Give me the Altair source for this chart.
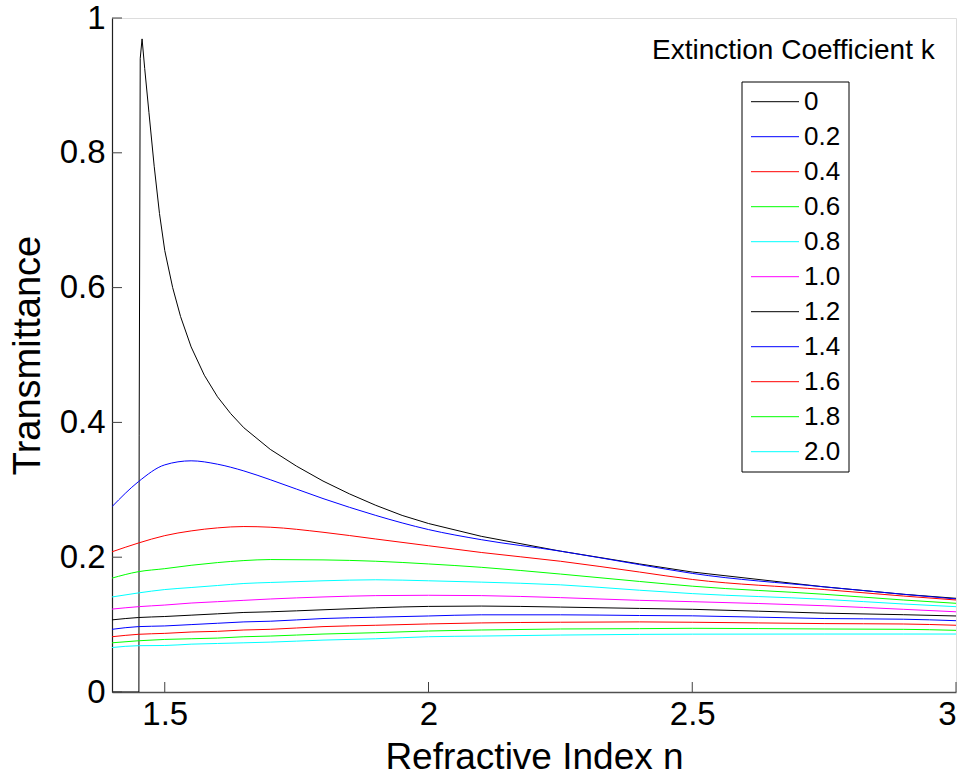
import altair as alt
import pandas as pd

# ---- data ----
k_labels = ["0", "0.2", "0.4", "0.6", "0.8", "1.0", "1.2", "1.4", "1.6", "1.8", "2.0"]
k_colors = ["#000000", "#0000ff", "#ff0000", "#00ff00", "#00ffff", "#ff00ff",
            "#000000", "#0000ff", "#ff0000", "#00ff00", "#00ffff"]

# k = 0 curve (has a cut-off near n = 1.45)
n_k0 = [1.4, 1.451, 1.4515, 1.4535, 1.457, 1.462, 1.47, 1.48, 1.49, 1.5, 1.515,
        1.53, 1.55, 1.575, 1.6, 1.625, 1.65, 1.7, 1.75, 1.8, 1.85, 1.9, 1.95, 2.0,
        2.1, 2.25, 2.4, 2.5, 2.75, 2.9, 3.0]
t_k0 = [0.0, 0.0, 0.38, 0.94, 0.969, 0.925, 0.86, 0.78, 0.71, 0.655, 0.600,
        0.557, 0.512, 0.470, 0.438, 0.413, 0.392, 0.360, 0.335, 0.313, 0.294,
        0.277, 0.262, 0.250, 0.231, 0.209, 0.190, 0.178, 0.156, 0.145, 0.139]

# common n grid for k >= 0.2
n_grid = [1.4, 1.45, 1.5, 1.55, 1.6, 1.65, 1.7, 1.8, 1.9, 2.0, 2.1, 2.25, 2.4, 2.5,
          2.75, 2.9, 3.0]
t_k02 = [0.275, 0.312, 0.337, 0.343, 0.338, 0.328, 0.315, 0.287, 0.262, 0.241, 0.226,
         0.209, 0.189, 0.176, 0.156, 0.145, 0.138]
t_k04 = [0.208, 0.221, 0.232, 0.239, 0.2435, 0.2455, 0.2445, 0.237, 0.227, 0.217, 0.207,
         0.194, 0.178, 0.167, 0.152, 0.1424, 0.1365]
t_k06 = [0.169, 0.1785, 0.183, 0.188, 0.192, 0.195, 0.1965, 0.196, 0.194, 0.190, 0.185,
         0.175, 0.164, 0.157, 0.145, 0.1365, 0.1316]
t_k08 = [0.141, 0.147, 0.152, 0.155, 0.158, 0.161, 0.1625, 0.165, 0.1665, 0.165, 0.163,
         0.159, 0.151, 0.146, 0.1375, 0.1306, 0.1266]
t_k10 = [0.123, 0.1266, 0.129, 0.132, 0.134, 0.136, 0.138, 0.141, 0.143, 0.1435, 0.143,
         0.140, 0.136, 0.134, 0.128, 0.1227, 0.119]
t_k12 = [0.107, 0.1105, 0.112, 0.114, 0.116, 0.118, 0.119, 0.122, 0.125, 0.127, 0.1275,
         0.126, 0.124, 0.1227, 0.117, 0.1147, 0.1128]
t_k14 = [0.093, 0.097, 0.098, 0.100, 0.102, 0.104, 0.105, 0.109, 0.111, 0.1128, 0.1145,
         0.1145, 0.1135, 0.113, 0.109, 0.108, 0.1058]
t_k16 = [0.082, 0.0856, 0.087, 0.089, 0.090, 0.092, 0.093, 0.097, 0.099, 0.101, 0.1025,
         0.1035, 0.104, 0.1035, 0.1015, 0.1009, 0.099]
t_k18 = [0.073, 0.076, 0.078, 0.079, 0.080, 0.082, 0.083, 0.086, 0.088, 0.0905, 0.092,
         0.0935, 0.094, 0.0945, 0.0935, 0.093, 0.0915]
t_k20 = [0.066, 0.0687, 0.069, 0.071, 0.072, 0.073, 0.074, 0.077, 0.079, 0.082, 0.083,
         0.0845, 0.0855, 0.0858, 0.086, 0.086, 0.086]

x_ticks = [1.5, 2.0, 2.5, 3.0]
y_ticks = [0.0, 0.2, 0.4, 0.6, 0.8, 1.0]
legend_title = "Extinction Coefficient k"

# ---- build tables ----
df0 = pd.DataFrame({"k": "0", "n": n_k0, "T": t_k0, "i": range(len(n_k0))})
rows = []
series = [t_k02, t_k04, t_k06, t_k08, t_k10, t_k12, t_k14, t_k16, t_k18, t_k20]
for lab, vals in zip(k_labels[1:], series):
    for i, (n, t) in enumerate(zip(n_grid, vals)):
        rows.append({"k": lab, "n": n, "T": t, "i": i})
df = pd.DataFrame(rows)
leg_df = pd.DataFrame({"k": k_labels})

FONT = "Liberation Sans"
W, H = 844, 674
xscale = alt.Scale(domain=[1.4, 3.0], nice=False, zero=False)
yscale = alt.Scale(domain=[0, 1], nice=False, zero=False)
cscale = alt.Scale(domain=k_labels, range=k_colors)

x_axis = alt.Axis(values=x_ticks, format="~g", ticks=False, grid=False,
                  labelFontSize=33, labelPadding=6, labelFont=FONT,
                  labelColor="#000", title="Refractive Index n",
                  titleFontSize=37, titleFont=FONT, titleFontWeight="normal",
                  titleColor="#000", titlePadding=8,
                  domainColor="#505050", domainWidth=1.5)
y_axis = alt.Axis(values=y_ticks, format="~g", ticks=False, grid=False,
                  labelFontSize=33, labelPadding=7, labelFont=FONT,
                  labelColor="#000", title="Transmittance",
                  titleFontSize=38, titleFont=FONT, titleFontWeight="normal",
                  titleColor="#000", titlePadding=12,
                  domainColor="#202020", domainWidth=1.2)
X = alt.X("n:Q", scale=xscale, axis=x_axis)
Y = alt.Y("T:Q", scale=yscale, axis=y_axis)
C = alt.Color("k:N", scale=cscale, sort=k_labels, legend=None)

line0 = alt.Chart(df0).mark_line(strokeWidth=1, interpolate="linear", clip=True).encode(
    x=X, y=Y, color=C, order=alt.Order("i:Q"))
lines = alt.Chart(df).mark_line(strokeWidth=1, interpolate="monotone", clip=True).encode(
    x=X, y=Y, color=C, order=alt.Order("i:Q"))

xt = alt.Chart(pd.DataFrame({"n": x_ticks})).mark_rule(color="#404040", strokeWidth=1).encode(
    x=X, y=alt.value(H), y2=alt.value(H - 10))
yt = alt.Chart(pd.DataFrame({"T": y_ticks})).mark_rule(color="#404040", strokeWidth=1).encode(
    y=Y, x=alt.value(0), x2=alt.value(10))

title_txt = alt.Chart(pd.DataFrame({"t": [legend_title]})).mark_text(
    align="left", baseline="middle", fontSize=28, font=FONT, color="#000").encode(
    text="t:N", x=alt.value(540), y=alt.value(33))

main = alt.layer(line0, lines, xt, yt, title_txt)

# ---- legend (boxed, rows placed by a point scale) ----
LY = alt.Y("k:N", sort=k_labels, axis=None,
           scale=alt.Scale(type="point", domain=k_labels, range=[83.7, 433.7], padding=0))
frame = alt.Chart(pd.DataFrame({"f": [0]})).mark_rect(
    fill="white", stroke="#000", strokeWidth=1).encode(
    x=alt.value(630), x2=alt.value(737), y=alt.value(64), y2=alt.value(454))
leg_rules = alt.Chart(leg_df).mark_rule(strokeWidth=1).encode(
    y=LY, x=alt.value(639), x2=alt.value(687), color=C)
leg_text = alt.Chart(leg_df).mark_text(
    align="left", baseline="middle", fontSize=26, font=FONT, color="#000").encode(
    y=LY, x=alt.value(692), text="k:N")
legend = alt.layer(frame, leg_rules, leg_text)

chart = alt.layer(main, legend).resolve_scale(y="independent").properties(
    width=W, height=H,
    autosize=alt.AutoSizeParams(type="none"),
    padding={"left": 112, "top": 18, "right": 15, "bottom": 84},
).configure_view(strokeWidth=0, stroke="transparent").configure(background="white")

chart.save("out.html", embed_options={"renderer": "svg", "actions": False})
